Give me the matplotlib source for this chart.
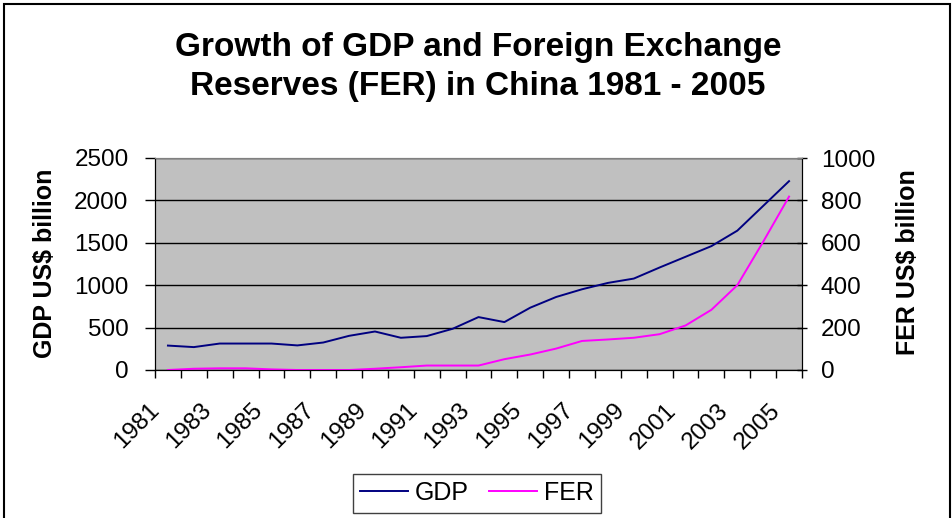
import matplotlib
matplotlib.use("Agg")
import matplotlib.pyplot as plt
from matplotlib.patches import Rectangle
import matplotlib.transforms as mtransforms

plt.rcParams['font.family'] = ['Liberation Sans', 'DejaVu Sans']

years = list(range(1981, 2006))
gdp = [288, 270, 312, 312, 312, 290, 324, 403, 454, 380, 400, 486, 624,
       565, 735, 861, 952, 1027, 1078, 1209, 1335, 1461, 1643, 1935, 2227]
fer = [0, 6, 8, 8, 3, 0, 0, 0, 6, 13, 21, 21, 21,
       51, 73, 101, 137, 144, 152, 169, 210, 284, 400, 605, 818]
tick_years = [str(y) for y in years[::2]]

W, H = 952, 518
fig = plt.figure(figsize=(W / 100, H / 100), dpi=100)

x0, x1, ytop, ybot = 155, 802, 158, 370
ax = fig.add_axes([x0 / W, 1 - ybot / H, (x1 - x0) / W, (ybot - ytop) / H])
ax.set_facecolor('#C0C0C0')

xs = list(range(len(years)))
lg, = ax.plot(xs, gdp, color='#000080', lw=1.4, label='GDP')
ax.set_xlim(-0.5, len(years) - 0.5)
ax.set_ylim(0, 2500)
ax.set_yticks([0, 500, 1000, 1500, 2000, 2500])
ax.yaxis.grid(True, color='black', lw=1)
ax.set_axisbelow(True)
ax.tick_params(axis='y', labelsize=17.5, length=7, direction='out', width=1, pad=12)

# x ticks: boundaries as minor ticks, labels at category centers
ax.set_xticks([i - 0.5 for i in range(len(years) + 1)], minor=True)
ax.set_xticks(xs[::2])
ax.set_xticklabels(tick_years, rotation=45, ha='right', va='top',
                   rotation_mode='anchor', fontsize=17.5)
ax.tick_params(axis='x', which='major', length=0, pad=21)
ax.tick_params(axis='x', which='minor', length=6, direction='out', width=1)
offset = mtransforms.ScaledTranslation(-20 / 100, 0, fig.dpi_scale_trans)
for lab in ax.get_xticklabels():
    lab.set_transform(lab.get_transform() + offset)

ax.spines['top'].set_color('#808080')
ax.spines['left'].set_color('black')
ax.spines['bottom'].set_color('black')

ax2 = ax.twinx()
lf, = ax2.plot(xs, fer, color='#FF00FF', lw=1.4, label='FER')
ax2.set_ylim(0, 1000)
ax2.set_yticks([0, 200, 400, 600, 800, 1000])
ax2.tick_params(axis='y', labelsize=17.5, length=7, direction='inout', width=1, pad=10)
ax2.spines['top'].set_color('#808080')
ax2.spines['right'].set_color('black')

# Title
fig.text(478 / W, 1 - 67 / H,
         'Growth of GDP and Foreign Exchange\nReserves (FER) in China 1981 - 2005',
         ha='center', va='center', fontsize=24, fontweight='bold', linespacing=1.3)

# Axis titles
fig.text(45 / W, 1 - 263 / H, 'GDP US$ billion', rotation=90, ha='center',
         va='center', fontsize=18, fontweight='bold')
fig.text(908 / W, 1 - 262 / H, 'FER US$ billion', rotation=90, ha='center',
         va='center', fontsize=18, fontweight='bold')

leg = fig.legend(handles=[lg, lf], loc='center', bbox_to_anchor=(477 / W, 1 - 493 / H),
                 ncol=2, fontsize=18, frameon=True, fancybox=False, framealpha=1,
                 edgecolor='#404040', handlelength=1.9, handletextpad=0.3,
                 columnspacing=0.8, borderpad=0.3)
leg.get_frame().set_linewidth(1)

fig.patches.append(Rectangle((4 / W, -0.02), (950 - 4) / W, 1 - 4 / H + 0.02,
                             transform=fig.transFigure, fill=False,
                             edgecolor='black', lw=1.5))

fig.savefig('out.png', dpi=100)
